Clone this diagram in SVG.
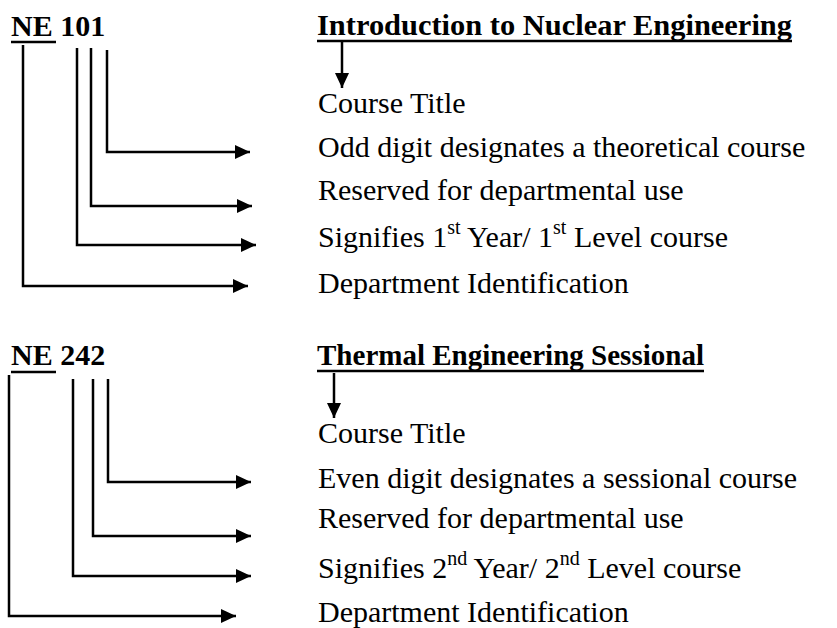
<svg xmlns="http://www.w3.org/2000/svg" width="837" height="628" viewBox="0 0 837 628">
<style>
  .b { font-family: "Liberation Serif", "Times New Roman", serif; font-weight: bold; font-size: 30px; fill: #000; }
  .r { font-family: "Liberation Serif", "Times New Roman", serif; font-size: 30px; fill: #000; }
  .sup { font-size: 20px; }
  .ul { stroke: #000; stroke-width: 2.5; }
  .c { fill: none; stroke: #000; stroke-width: 2.5; marker-end: url(#ah); }
</style>
<defs>
  <marker id="ah" markerUnits="userSpaceOnUse" markerWidth="16" markerHeight="15" refX="15" refY="7" orient="auto">
    <path d="M0,0 L15,7 L0,14 z" fill="#000"/>
  </marker>
</defs>
<rect width="837" height="628" fill="#fff"/>

<!-- Top block -->
<g id="code1">
  <text class="b" x="11" y="36">NE 101</text>
  <line class="ul" x1="11" y1="42" x2="56" y2="42"/>
</g>
<g id="title1">
  <text class="b" x="317" y="35" textLength="475" lengthAdjust="spacingAndGlyphs">Introduction to Nuclear Engineering</text>
  <line class="ul" x1="317" y1="41" x2="792" y2="41"/>
</g>
<g id="label1-title"><text class="r" x="318" y="113">Course Title</text></g>
<g id="label1-odd"><text class="r" x="318" y="157">Odd digit designates a theoretical course</text></g>
<g id="label1-reserved"><text class="r" x="318" y="200">Reserved for departmental use</text></g>
<g id="label1-year"><text class="r" x="318" y="247">Signifies 1<tspan class="sup" dy="-13">st</tspan><tspan dy="13"> Year/ 1</tspan><tspan class="sup" dy="-13">st</tspan><tspan dy="13"> Level course</tspan></text></g>
<g id="label1-dept"><text class="r" x="318" y="293">Department Identification</text></g>

<!-- Bottom block -->
<g id="code2">
  <text class="b" x="11" y="365">NE 242</text>
  <line class="ul" x1="11" y1="372" x2="56" y2="372"/>
</g>
<g id="title2">
  <text class="b" x="317" y="365" textLength="387" lengthAdjust="spacingAndGlyphs">Thermal Engineering Sessional</text>
  <line class="ul" x1="317" y1="371" x2="704" y2="371"/>
</g>
<g id="label2-title"><text class="r" x="318" y="443">Course Title</text></g>
<g id="label2-even"><text class="r" x="318" y="488">Even digit designates a sessional course</text></g>
<g id="label2-reserved"><text class="r" x="318" y="528">Reserved for departmental use</text></g>
<g id="label2-year"><text class="r" x="318" y="578">Signifies 2<tspan class="sup" dy="-13">nd</tspan><tspan dy="13"> Year/ 2</tspan><tspan class="sup" dy="-13">nd</tspan><tspan dy="13"> Level course</tspan></text></g>
<g id="label2-dept"><text class="r" x="318" y="622">Department Identification</text></g>

<g id="connectors">
  <path class="c" d="M23,45 V286 H248"/>
  <path class="c" d="M77,48 V245 H256"/>
  <path class="c" d="M91,48 V206 H252"/>
  <path class="c" d="M107,50 V152 H250"/>
  <path class="c" d="M342,42 V88"/>

  <path class="c" d="M9,375 V616 H236"/>
  <path class="c" d="M73,379 V576 H251"/>
  <path class="c" d="M93,379 V536 H251"/>
  <path class="c" d="M108,379 V482 H251"/>
  <path class="c" d="M334,373 V418"/>
</g>
</svg>
